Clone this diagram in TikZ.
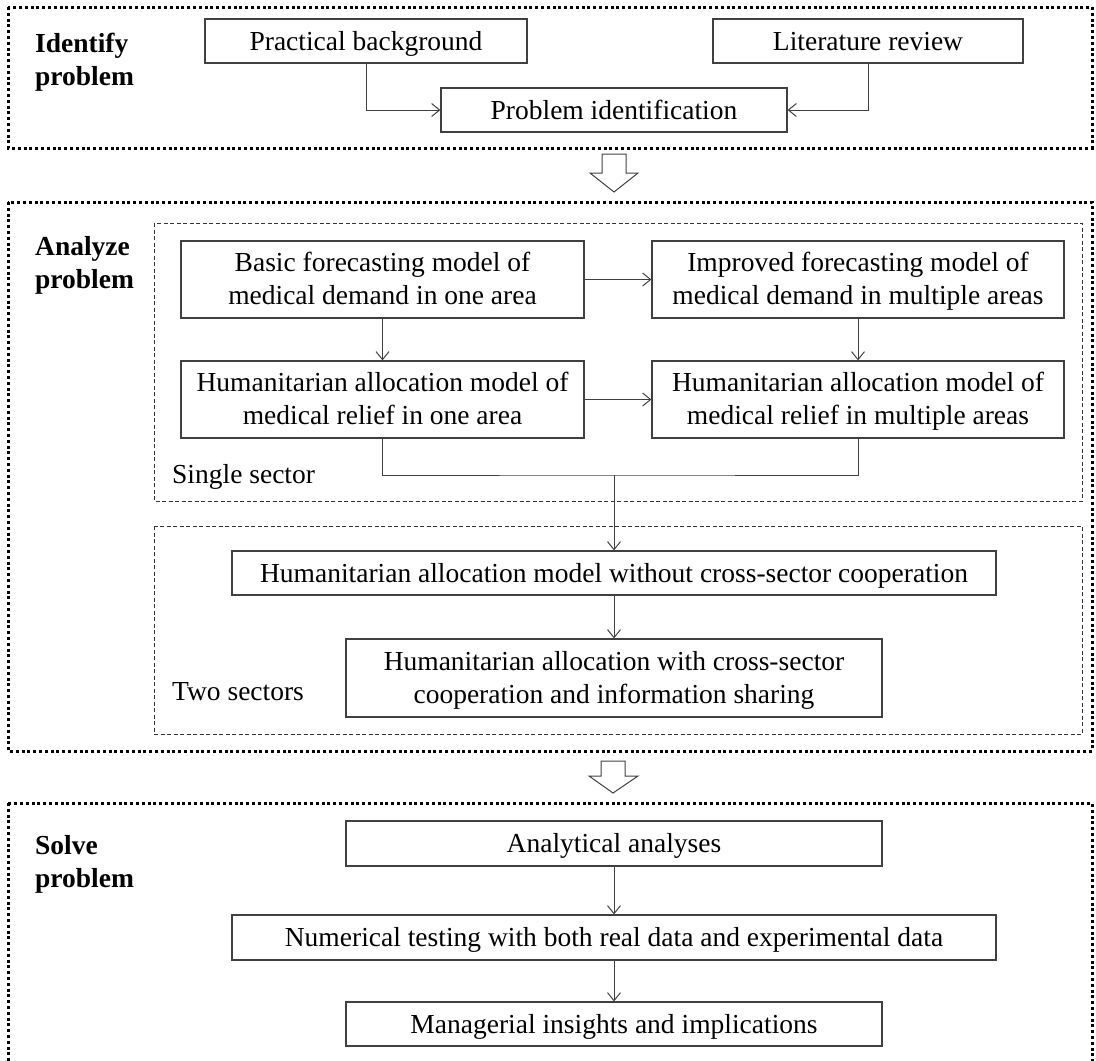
\documentclass[tikz,border=0pt]{standalone}
\usepackage{fontspec}
\setmainfont{Liberation Serif}
\usepackage{xcolor}
\usepackage{tikz}
\usetikzlibrary{arrows.meta}
\newcommand{\boxfont}{\fontsize{27.5}{33}\selectfont}
\newcommand{\vstrut}{\rule[-7pt]{0pt}{32pt}}
\tikzstyle{process} = [rectangle, 
inner sep=0pt,
text centered, 
align=center,
font=\boxfont,
execute at begin node=\vstrut,
execute at end node=\vstrut,
line width=1.2pt,
draw=black!75, 
fill=white]
\tikzstyle{twoline} = [execute at begin node=\rule{0pt}{57.4pt}]
\tikzstyle{stage} = [anchor=north west, 
inner sep=0pt,
align=left, 
font=\boxfont\bfseries]
\tikzstyle{sector} = [anchor=base west, inner sep=0pt, font=\boxfont]
\tikzstyle{frame} = [line width=3pt, dash pattern=on 3pt off 2.8pt, draw=black]
\tikzstyle{subframe} = [line width=1pt, dash pattern=on 4pt off 2.5pt, draw=black!80]
\tikzstyle{line} = [line width=1pt, draw=black!75]
\tikzstyle{arrow} = [line width=1pt, draw=black!75, ->, >={Straight Barb[length=8pt,width=13pt]}]

\begin{document}
\begin{tikzpicture}[x=1pt, y=-1pt]
\useasboundingbox (0,0) rectangle (1096,1061);

% Frames
\draw [frame] (8,7) rectangle (1092,148);
\draw [frame] (8,202) rectangle (1092,751);
\draw [frame] (8,803) rectangle (1092,1075);
\draw [subframe] (154,223) rectangle (1082,501);
\draw [subframe] (154,526) rectangle (1082,734);

% Stage labels
\node (identify) [stage] at (35,33) {Identify\\problem};
\node (analyze) [stage] at (35,236) {Analyze\\problem};
\node (solve) [stage] at (35,835) {Solve\\problem};
\node (single) [sector] at (172,483) {Single sector};
\node (two) [sector] at (172,700) {Two sectors};

% Nodes
\node (background) [process, minimum width=322pt, minimum height=44pt] at (366,41) {Practical background};
\node (literature) [process, minimum width=310pt, minimum height=44pt] at (868,41) {Literature review};
\node (identification) [process, minimum width=346pt, minimum height=44pt] at (614,110) {Problem identification};

\node (basic) [process, twoline, minimum width=403pt, minimum height=77pt] at (382.5,279.5) {Basic forecasting model of\\medical demand in one area};
\node (improved) [process, twoline, minimum width=412pt, minimum height=77pt] at (858,279.5) {Improved forecasting model of\\medical demand in multiple areas};
\node (one_area) [process, twoline, minimum width=403pt, minimum height=77pt] at (382.5,399.5) {Humanitarian allocation model of\\medical relief in one area};
\node (multi_area) [process, twoline, minimum width=412pt, minimum height=77pt] at (858,399.5) {Humanitarian allocation model of\\medical relief in multiple areas};
\coordinate (join) at (614,475);

\node (without) [process, minimum width=764pt, minimum height=44pt] at (614,573) {Humanitarian allocation model without cross-sector cooperation};
\node (with) [process, twoline, minimum width=536pt, minimum height=78pt] at (614,678) {Humanitarian allocation with cross-sector\\cooperation and information sharing};

\node (analytical) [process, minimum width=536pt, minimum height=45pt] at (614,843.5) {Analytical analyses};
\node (numerical) [process, minimum width=764pt, minimum height=45pt] at (614,937.5) {Numerical testing with both real data and experimental data};
\node (managerial) [process, minimum width=536pt, minimum height=44pt] at (614,1024) {Managerial insights and implications};

% Arrows
\draw [arrow] (background) |- (identification);
\draw [arrow] (literature) |- (identification);
\draw [arrow] (basic) -- (improved);
\draw [arrow] (basic) -- (one_area);
\draw [arrow] (improved) -- (multi_area);
\draw [arrow] (one_area) -- (multi_area);
\draw [line] (one_area) |- (join) -| (multi_area);
\draw [arrow] (join) -- (without);
\draw [arrow] (without) -- (with);
\draw [arrow] (analytical) -- (numerical);
\draw [arrow] (numerical) -- (managerial);

% Hollow arrows between stages
\draw [line] (602,154) -- (626,154) -- (626,173) -- (638,173) -- (614,192) -- (590,173) -- (602,173) -- cycle;
\draw [line] (601,761) -- (625,761) -- (625,776) -- (638,776) -- (613,793) -- (589,776) -- (601,776) -- cycle;

\end{tikzpicture}
\end{document}
